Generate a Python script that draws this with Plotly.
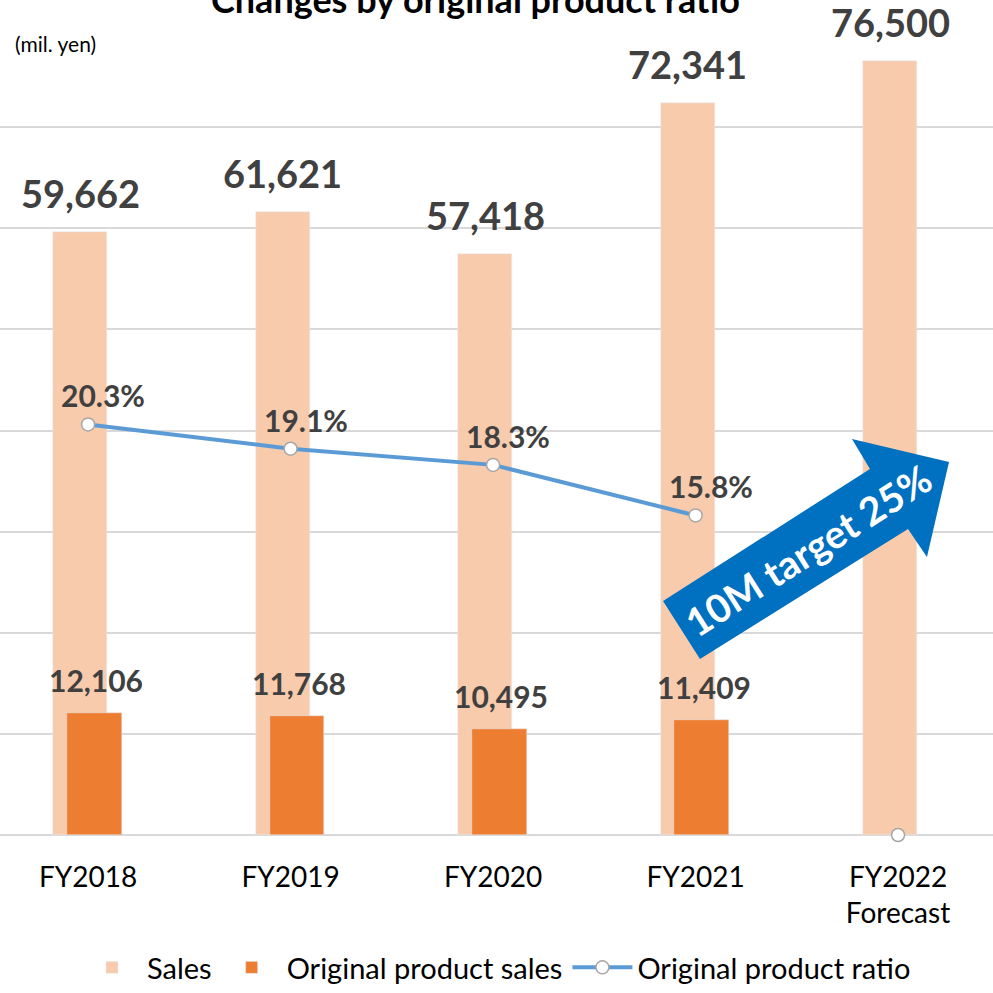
import plotly.graph_objects as go

# data
years = ["FY2018", "FY2019", "FY2020", "FY2021", "FY2022<br>Forecast"]
sales = [59662, 61621, 57418, 72341, 76500]
original_sales = [12106, 11768, 10495, 11409]
ratio = [20.3, 19.1, 18.3, 15.8]
ratio_forecast = [0]

W, H = 993, 993
TOP, BOTTOM = 26, 835          # pixel rows of the plot area
FONT = "Lato"
LABEL = "#404040"


def px(x, y):
    # pixel -> paper coordinates (plot area spans full width)
    return x / W, (BOTTOM - y) / (BOTTOM - TOP)


fig = go.Figure()

fig.add_trace(go.Bar(
    x=years, y=sales, name="Sales",
    marker_color="#F8CBAD", width=0.267, offset=-0.173,
))
fig.add_trace(go.Bar(
    x=years[:4], y=original_sales, name="Original product sales",
    marker_color="#ED7D31", width=0.27, offset=-0.104,
))
fig.add_trace(go.Scatter(
    x=years[:4], y=ratio, name="Original product ratio", yaxis="y2",
    mode="lines+markers",
    line=dict(color="#5B9BD5", width=4),
    marker=dict(size=13, color="white", line=dict(color="#A6A6A6", width=1.5)),
    cliponaxis=False,
))
fig.add_trace(go.Scatter(
    x=years[4:], y=ratio_forecast, yaxis="y2", mode="markers", showlegend=False,
    marker=dict(size=13, color="white", line=dict(color="#A6A6A6", width=1.5)),
    cliponaxis=False,
))

# value labels
for yr, v in zip(years, sales):
    fig.add_annotation(x=yr, y=v, text=f"{v:,}", showarrow=False, xshift=-8,
                       yanchor="bottom", yshift=14,
                       font=dict(family=FONT, size=38, color=LABEL, weight="bold"))
for yr, v in zip(years, original_sales):
    fig.add_annotation(x=yr, y=v, text=f"{v:,}", showarrow=False, xshift=8,
                       yanchor="bottom", yshift=13,
                       font=dict(family=FONT, size=30, color=LABEL, weight="bold"))
for yr, v in zip(years, ratio):
    fig.add_annotation(x=yr, y=v, yref="y2", text=f"{v:.1f}%", showarrow=False,
                       xshift=15, yanchor="bottom", yshift=9,
                       font=dict(family=FONT, size=30, color=LABEL, weight="bold"))

# blue arrow "10M target 25%"
arrow_pts = [(700, 659), (663, 601), (870, 469), (852, 439),
             (949, 462), (927, 557), (908, 529)]
path = "M " + " L ".join("%.4f,%.4f" % px(x, y) for x, y in arrow_pts) + " Z"
fig.add_shape(type="path", path=path, xref="paper", yref="paper",
              fillcolor="#0070C0", line=dict(width=0), layer="above")
ax, ay = px(808, 550)
fig.add_annotation(x=ax, y=ay, xref="paper", yref="paper", text="10M target 25%",
                   textangle=-32.5, showarrow=False, xanchor="center", yanchor="middle",
                   font=dict(family=FONT, size=39, color="white", weight="bold"))

# title, partly cut off at the top as in the reference
tx, ty = px(475, 22)
fig.add_annotation(x=tx, y=ty, xref="paper", yref="paper",
                   text="Changes by original product ratio", showarrow=False,
                   xanchor="center", yanchor="bottom", borderpad=0,
                   font=dict(family=FONT, size=36, color="black", weight="bold"))
ux, uy = px(13, 44)
fig.add_annotation(x=ux, y=uy, xref="paper", yref="paper", text="(mil. yen)",
                   showarrow=False, xanchor="left", yanchor="middle",
                   font=dict(family=FONT, size=21, color="black"))

fig.update_layout(
    width=W, height=H,
    margin=dict(l=0, r=0, t=TOP, b=H - BOTTOM, autoexpand=False),
    plot_bgcolor="white", paper_bgcolor="white",
    barmode="overlay", bargap=0,
    font=dict(family=FONT, color="black"),
    xaxis=dict(range=[-0.435, 4.469], showgrid=False, showline=False,
               tickfont=dict(family=FONT, size=28, color="black"),
               ticklabelstandoff=23),
    yaxis=dict(range=[0, 80000], dtick=10000, showticklabels=False,
               gridcolor="#D9D9D9", gridwidth=2, zeroline=True,
               zerolinecolor="#D9D9D9", zerolinewidth=2),
    yaxis2=dict(range=[0, 40], overlaying="y", side="right", showgrid=False,
                showticklabels=False, zeroline=False),
    legend=dict(orientation="h", x=0.5, xanchor="center", y=px(0, H)[1],
                yanchor="bottom", font=dict(family=FONT, size=29, color="black"),
                itemwidth=60),
    showlegend=True,
)

fig.write_html("out.html", config={"displayModeBar": False},
               post_script="document.body.style.margin='0px';")
